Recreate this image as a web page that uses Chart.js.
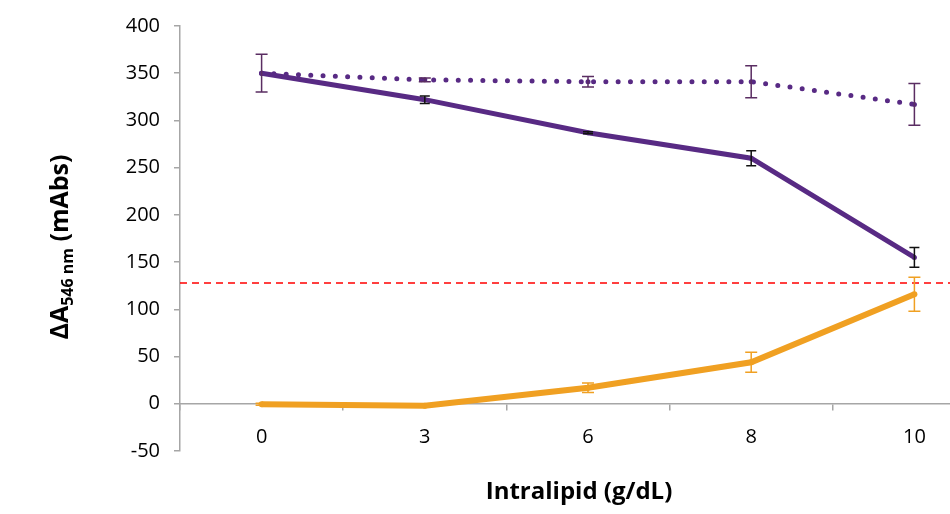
<!DOCTYPE html>
<html lang="en">
<head>
    <meta charset="UTF-8">
    <script src="https://cdn.jsdelivr.net/npm/chart.js"></script>
    <title>Intralipid</title>
    <style>
        html, body { margin: 0; padding: 0; background: #fff; overflow: hidden; }
        .grafico { width: 1000px; height: 514px; }
    </style>
</head>
<body>
    <div class="grafico">
        <canvas id="Grafico1" width="1000" height="514"></canvas>
    </div>

<script>
    // dados
    var categorias = ['0', '3', '6', '8', '10'];
    var pontilhada = [350, 343, 341, 341, 317];
    var pontilhadaErro = [20, 2, 5.5, 17, 22];
    var solida = [350, 322, 287, 260, 155];
    var solidaErro = [0, 4, 1, 8, 10.5];
    var laranja = [-0.5, -2, 17, 44, 116];
    var laranjaErro = [1, 1, 5, 10.5, 18];
    var limite = 128;
    var yMin = -50, yMax = 400, yPasso = 50;

    var tituloX = 'Intralipid (g/dL)';
    var tituloY = ['\u0394A', '546 nm', ' (mAbs)'];

    var roxo = '#582a84';
    var laranjaCor = '#f0a022';

    var errorBars = {
        id: 'errorBars',
        afterDatasetsDraw(chart) {
            var ctx = chart.ctx;
            var y = chart.scales.y;
            chart.data.datasets.forEach((ds, i) => {
                if (!ds.erros) return;
                var meta = chart.getDatasetMeta(i);
                ctx.save();
                ctx.strokeStyle = ds.corErro;
                ctx.lineWidth = 1.5;
                meta.data.forEach((pt, j) => {
                    var e = ds.erros[j];
                    if (!e) return;
                    var top = y.getPixelForValue(ds.data[j] + e);
                    var bot = y.getPixelForValue(ds.data[j] - e);
                    var w = ds.capa;
                    ctx.beginPath();
                    ctx.moveTo(pt.x, top); ctx.lineTo(pt.x, bot);
                    ctx.moveTo(pt.x - w, top); ctx.lineTo(pt.x + w, top);
                    ctx.moveTo(pt.x - w, bot); ctx.lineTo(pt.x + w, bot);
                    ctx.stroke();
                });
                ctx.restore();
            });
        }
    };

    var linhaLimite = {
        id: 'linhaLimite',
        beforeDatasetsDraw(chart) {
            var ctx = chart.ctx;
            var area = chart.chartArea;
            var py = chart.scales.y.getPixelForValue(limite);
            ctx.save();
            ctx.strokeStyle = '#ff0000';
            ctx.lineWidth = 1.5;
            ctx.setLineDash([7, 5]);
            ctx.beginPath();
            ctx.moveTo(area.left, py);
            ctx.lineTo(area.right, py);
            ctx.stroke();
            ctx.restore();
        }
    };

    var titulos = {
        id: 'titulos',
        afterDraw(chart) {
            var ctx = chart.ctx;
            var area = chart.chartArea;
            ctx.save();
            ctx.fillStyle = '#000';
            ctx.textBaseline = 'middle';
            ctx.textAlign = 'center';
            ctx.font = 'bold 24px "Open Sans"';
            ctx.fillText(tituloX, 579, 492);

            // titulo do eixo y com subscrito
            var grande = 'bold 25px "Open Sans"';
            var pequeno = 'bold 16px "Open Sans"';
            ctx.font = grande;
            var w1 = ctx.measureText(tituloY[0]).width;
            var w3 = ctx.measureText(tituloY[2]).width;
            ctx.font = pequeno;
            var w2 = ctx.measureText(tituloY[1]).width;
            var total = w1 + w2 + w3;
            ctx.translate(61, 247);
            ctx.rotate(-Math.PI / 2);
            ctx.textAlign = 'left';
            var x = -total / 2;
            ctx.font = grande;
            ctx.fillText(tituloY[0], x, 0);
            x += w1;
            ctx.font = pequeno;
            ctx.fillText(tituloY[1], x, 7);
            x += w2;
            ctx.font = grande;
            ctx.fillText(tituloY[2], x, 0);
            ctx.restore();
        }
    };

    var ctx1 = document.getElementById('Grafico1').getContext('2d');
    new Chart(ctx1, {
        type: 'line',
        data: {
            labels: categorias,
            datasets: [
                {
                    label: 'Solida',
                    data: solida,
                    erros: solidaErro,
                    corErro: '#111111',
                    capa: 5,
                    borderColor: roxo,
                    backgroundColor: roxo,
                    borderWidth: 5,
                    pointRadius: 2.5,
                    pointBorderWidth: 0,
                    tension: 0
                },
                {
                    label: 'Pontilhada',
                    data: pontilhada,
                    erros: pontilhadaErro,
                    corErro: '#5a2d62',
                    capa: 6,
                    borderColor: roxo,
                    backgroundColor: roxo,
                    borderWidth: 5,
                    borderDash: [0, 12.3],
                    borderCapStyle: 'round',
                    pointRadius: 2.5,
                    pointBorderWidth: 0,
                    tension: 0
                },
                {
                    label: 'Laranja',
                    data: laranja,
                    erros: laranjaErro,
                    corErro: laranjaCor,
                    capa: 6,
                    borderColor: laranjaCor,
                    backgroundColor: laranjaCor,
                    borderWidth: 6,
                    pointRadius: 3,
                    pointBorderWidth: 0,
                    tension: 0
                }
            ]
        },
        options: {
            responsive: false,
            animation: false,
            devicePixelRatio: 1,
            layout: { padding: { top: 26, bottom: 63, right: 2, left: 0 } },
            plugins: {
                legend: { display: false },
                tooltip: { enabled: false }
            },
            scales: {
                x: {
                    type: 'category',
                    offset: true,
                    position: { y: 0 },
                    grid: {
                        offset: true,
                        drawOnChartArea: false,
                        tickLength: 6,
                        color: '#a6a6a6',
                        lineWidth: 1.5
                    },
                    border: { color: '#a6a6a6', width: 1.5 },
                    ticks: {
                        color: '#000',
                        font: { family: 'Open Sans', size: 20 },
                        padding: 16,
                        maxRotation: 0
                    }
                },
                y: {
                    min: yMin,
                    max: yMax,
                    afterFit: function (scale) { scale.width = 180; },
                    grid: {
                        drawOnChartArea: false,
                        tickLength: 6,
                        color: '#a6a6a6',
                        lineWidth: 1.5
                    },
                    border: { color: '#a6a6a6', width: 1.5 },
                    ticks: {
                        stepSize: yPasso,
                        color: '#000',
                        font: { family: 'Open Sans', size: 20 },
                        padding: 14
                    }
                }
            }
        },
        plugins: [linhaLimite, errorBars, titulos]
    });
</script>
</body>
</html>
